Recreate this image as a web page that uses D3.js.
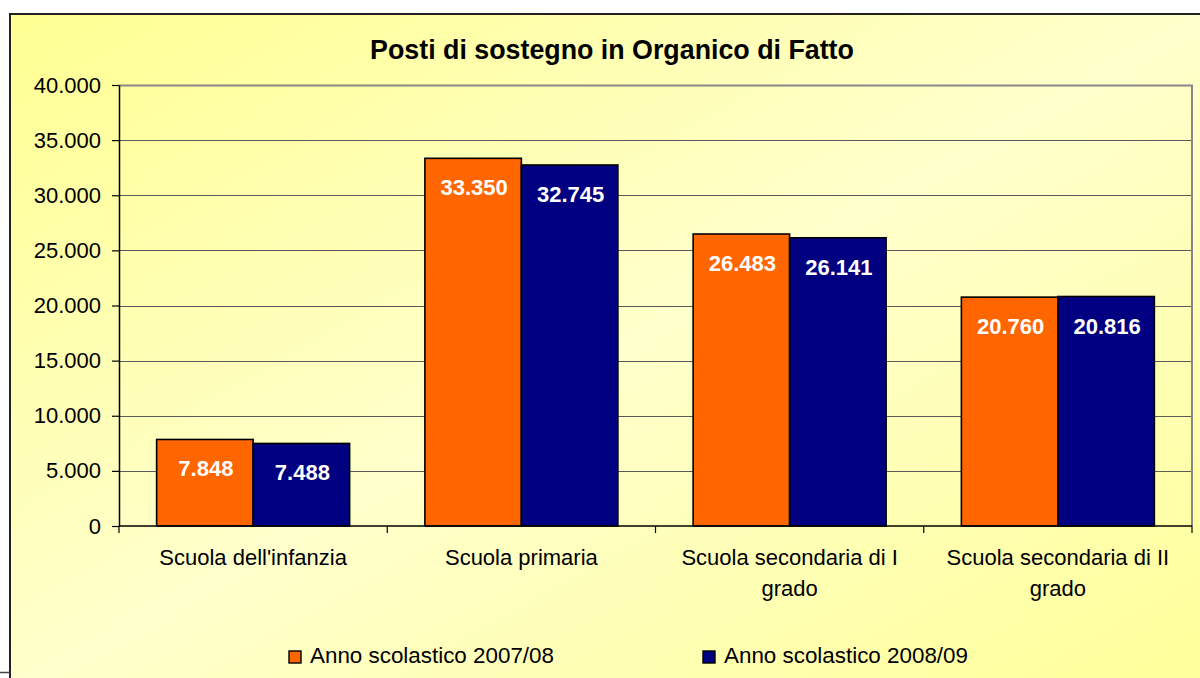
<!DOCTYPE html>
<html>
<head>
<meta charset="utf-8">
<script src="https://cdn.jsdelivr.net/npm/d3@7"></script>
<style>
  html, body { margin: 0; padding: 0; background: #ffffff; }
  svg { display: block; }
  text { font-family: "Liberation Sans", Arial, sans-serif; }
</style>
</head>
<body>
<svg id="chart" width="1200" height="678"></svg>
<script>
// ---- data ----
const title = "Posti di sostegno in Organico di Fatto";
const categories = ["Scuola dell'infanzia", "Scuola primaria", "Scuola secondaria di I grado", "Scuola secondaria di II grado"];
const seriesNames = ["Anno scolastico 2007/08", "Anno scolastico 2008/09"];
const values2007 = [7848, 33350, 26483, 20760];
const values2008 = [7488, 32745, 26141, 20816];
const yTicks = [0, 5000, 10000, 15000, 20000, 25000, 30000, 35000, 40000];
const seriesColors = ["#FF6600", "#000080"];

// ---- setup ----
const svg = d3.select("#chart");
const plot = { left: 119, top: 85, right: 1192, bottom: 526 };

const itFormat = d3.formatLocale({ decimal: ",", thousands: ".", grouping: [3], currency: ["€", ""] }).format(",");

// background gradient
const defs = svg.append("defs");
const grad = defs.append("linearGradient").attr("id", "bg")
  .attr("x1", 0).attr("y1", 0).attr("x2", 1).attr("y2", 1);
grad.append("stop").attr("offset", "0%").attr("stop-color", "#FFFF93");
grad.append("stop").attr("offset", "50%").attr("stop-color", "#FFFFCC");
grad.append("stop").attr("offset", "100%").attr("stop-color", "#FFFF99");

svg.append("rect").attr("x", 10).attr("y", 14).attr("width", 1202).attr("height", 680)
  .attr("fill", "url(#bg)").attr("stroke", "#222").attr("stroke-width", 2);
svg.append("line").attr("x1", 0).attr("x2", 10).attr("y1", 672.5).attr("y2", 672.5)
  .attr("stroke", "#444").attr("stroke-width", 1.5);

// scales
const y = d3.scaleLinear().domain([0, 40000]).range([plot.bottom, plot.top]);
const x0 = d3.scaleBand().domain(categories).range([plot.left, plot.right]).padding(0);
const x1 = d3.scaleBand().domain(seriesNames).range([0, x0.bandwidth()]).paddingInner(0).paddingOuter(0.39);

// gridlines
svg.append("g").selectAll("line").data(yTicks.filter(d => d > 0 && d < 40000)).join("line")
  .attr("x1", plot.left).attr("x2", plot.right)
  .attr("y1", d => Math.round(y(d)) + 0.5).attr("y2", d => Math.round(y(d)) + 0.5)
  .attr("stroke", "#5a5a5a").attr("stroke-width", 1.2);

// plot border (top & right)
svg.append("path")
  .attr("d", `M${plot.left},${plot.top + 0.5}H${plot.right}V${plot.bottom}`)
  .attr("fill", "none").attr("stroke", "#888").attr("stroke-width", 2);

// bars
const rows = categories.map((c, i) => ({ cat: c, vals: [values2007[i], values2008[i]] }));
const groups = svg.append("g").selectAll("g").data(rows).join("g")
  .attr("transform", d => `translate(${x0(d.cat)},0)`);
groups.selectAll("rect").data(d => d.vals.map((v, j) => ({ v, s: seriesNames[j], j }))).join("rect")
  .attr("x", d => x1(d.s)).attr("width", x1.bandwidth())
  .attr("y", d => y(d.v)).attr("height", d => y(0) - y(d.v))
  .attr("fill", d => seriesColors[d.j]).attr("stroke", "#000").attr("stroke-width", 1.6);
groups.selectAll("text").data(d => d.vals.map((v, j) => ({ v, s: seriesNames[j], j }))).join("text")
  .attr("x", d => x1(d.s) + x1.bandwidth() / 2 + 1)
  .attr("y", d => y(d.v) + 37)
  .attr("text-anchor", "middle").attr("fill", "#fff")
  .attr("font-size", 22).attr("font-weight", "bold")
  .text(d => itFormat(d.v));

// y axis
const yAxis = svg.append("g").attr("transform", `translate(${plot.left},0)`)
  .call(d3.axisLeft(y).tickValues(yTicks).tickFormat(itFormat).tickSize(7).tickPadding(11).tickSizeOuter(0));
yAxis.select(".domain").attr("stroke", "#000").attr("stroke-width", 1.5);
yAxis.selectAll(".tick line").attr("stroke", "#000").attr("stroke-width", 1.2);
yAxis.selectAll(".tick text").attr("font-size", 22).attr("fill", "#000")
  .attr("font-family", "'Liberation Sans', Arial, sans-serif");

// x axis
const xAxis = svg.append("g").attr("transform", `translate(0,${plot.bottom})`);
xAxis.append("line").attr("x1", plot.left).attr("x2", plot.right).attr("y1", 0).attr("y2", 0)
  .attr("stroke", "#000").attr("stroke-width", 1.5);
const bounds = categories.map(c => x0(c)).concat([plot.right]);
xAxis.selectAll("line.tk").data(bounds).join("line").attr("class", "tk")
  .attr("x1", d => d).attr("x2", d => d).attr("y1", 0).attr("y2", 7)
  .attr("stroke", "#000").attr("stroke-width", 1.2);

// category labels with wrapping
const measure = svg.append("text").attr("font-size", 22).attr("visibility", "hidden");
function wrap(str, maxW) {
  const words = str.split(" ");
  const lines = [];
  let cur = "";
  words.forEach(w => {
    const test = cur ? cur + " " + w : w;
    measure.text(test);
    if (measure.node().getComputedTextLength() > maxW && cur) { lines.push(cur); cur = w; }
    else cur = test;
  });
  if (cur) lines.push(cur);
  return lines;
}
categories.forEach(c => {
  const lines = wrap(c, 250);
  const t = xAxis.append("text").attr("text-anchor", "middle").attr("font-size", 22).attr("fill", "#000");
  lines.forEach((l, i) => {
    t.append("tspan").attr("x", x0(c) + x0.bandwidth() / 2).attr("y", 39 + i * 31).text(l);
  });
});
measure.remove();

// title
svg.append("text").attr("x", 612).attr("y", 59).attr("text-anchor", "middle")
  .attr("font-size", 26.8).attr("font-weight", "bold").attr("fill", "#000").text(title);

// legend
const legendX = [289, 703];
const legend = svg.append("g").selectAll("g").data(seriesNames).join("g")
  .attr("transform", (d, i) => `translate(${legendX[i]},651)`);
legend.append("rect").attr("width", 12).attr("height", 12)
  .attr("fill", (d, i) => seriesColors[i]).attr("stroke", "#000").attr("stroke-width", 1.4);
legend.append("text").attr("x", 21).attr("y", 12).attr("font-size", 22.4).attr("fill", "#000").text(d => d);
</script>
</body>
</html>
